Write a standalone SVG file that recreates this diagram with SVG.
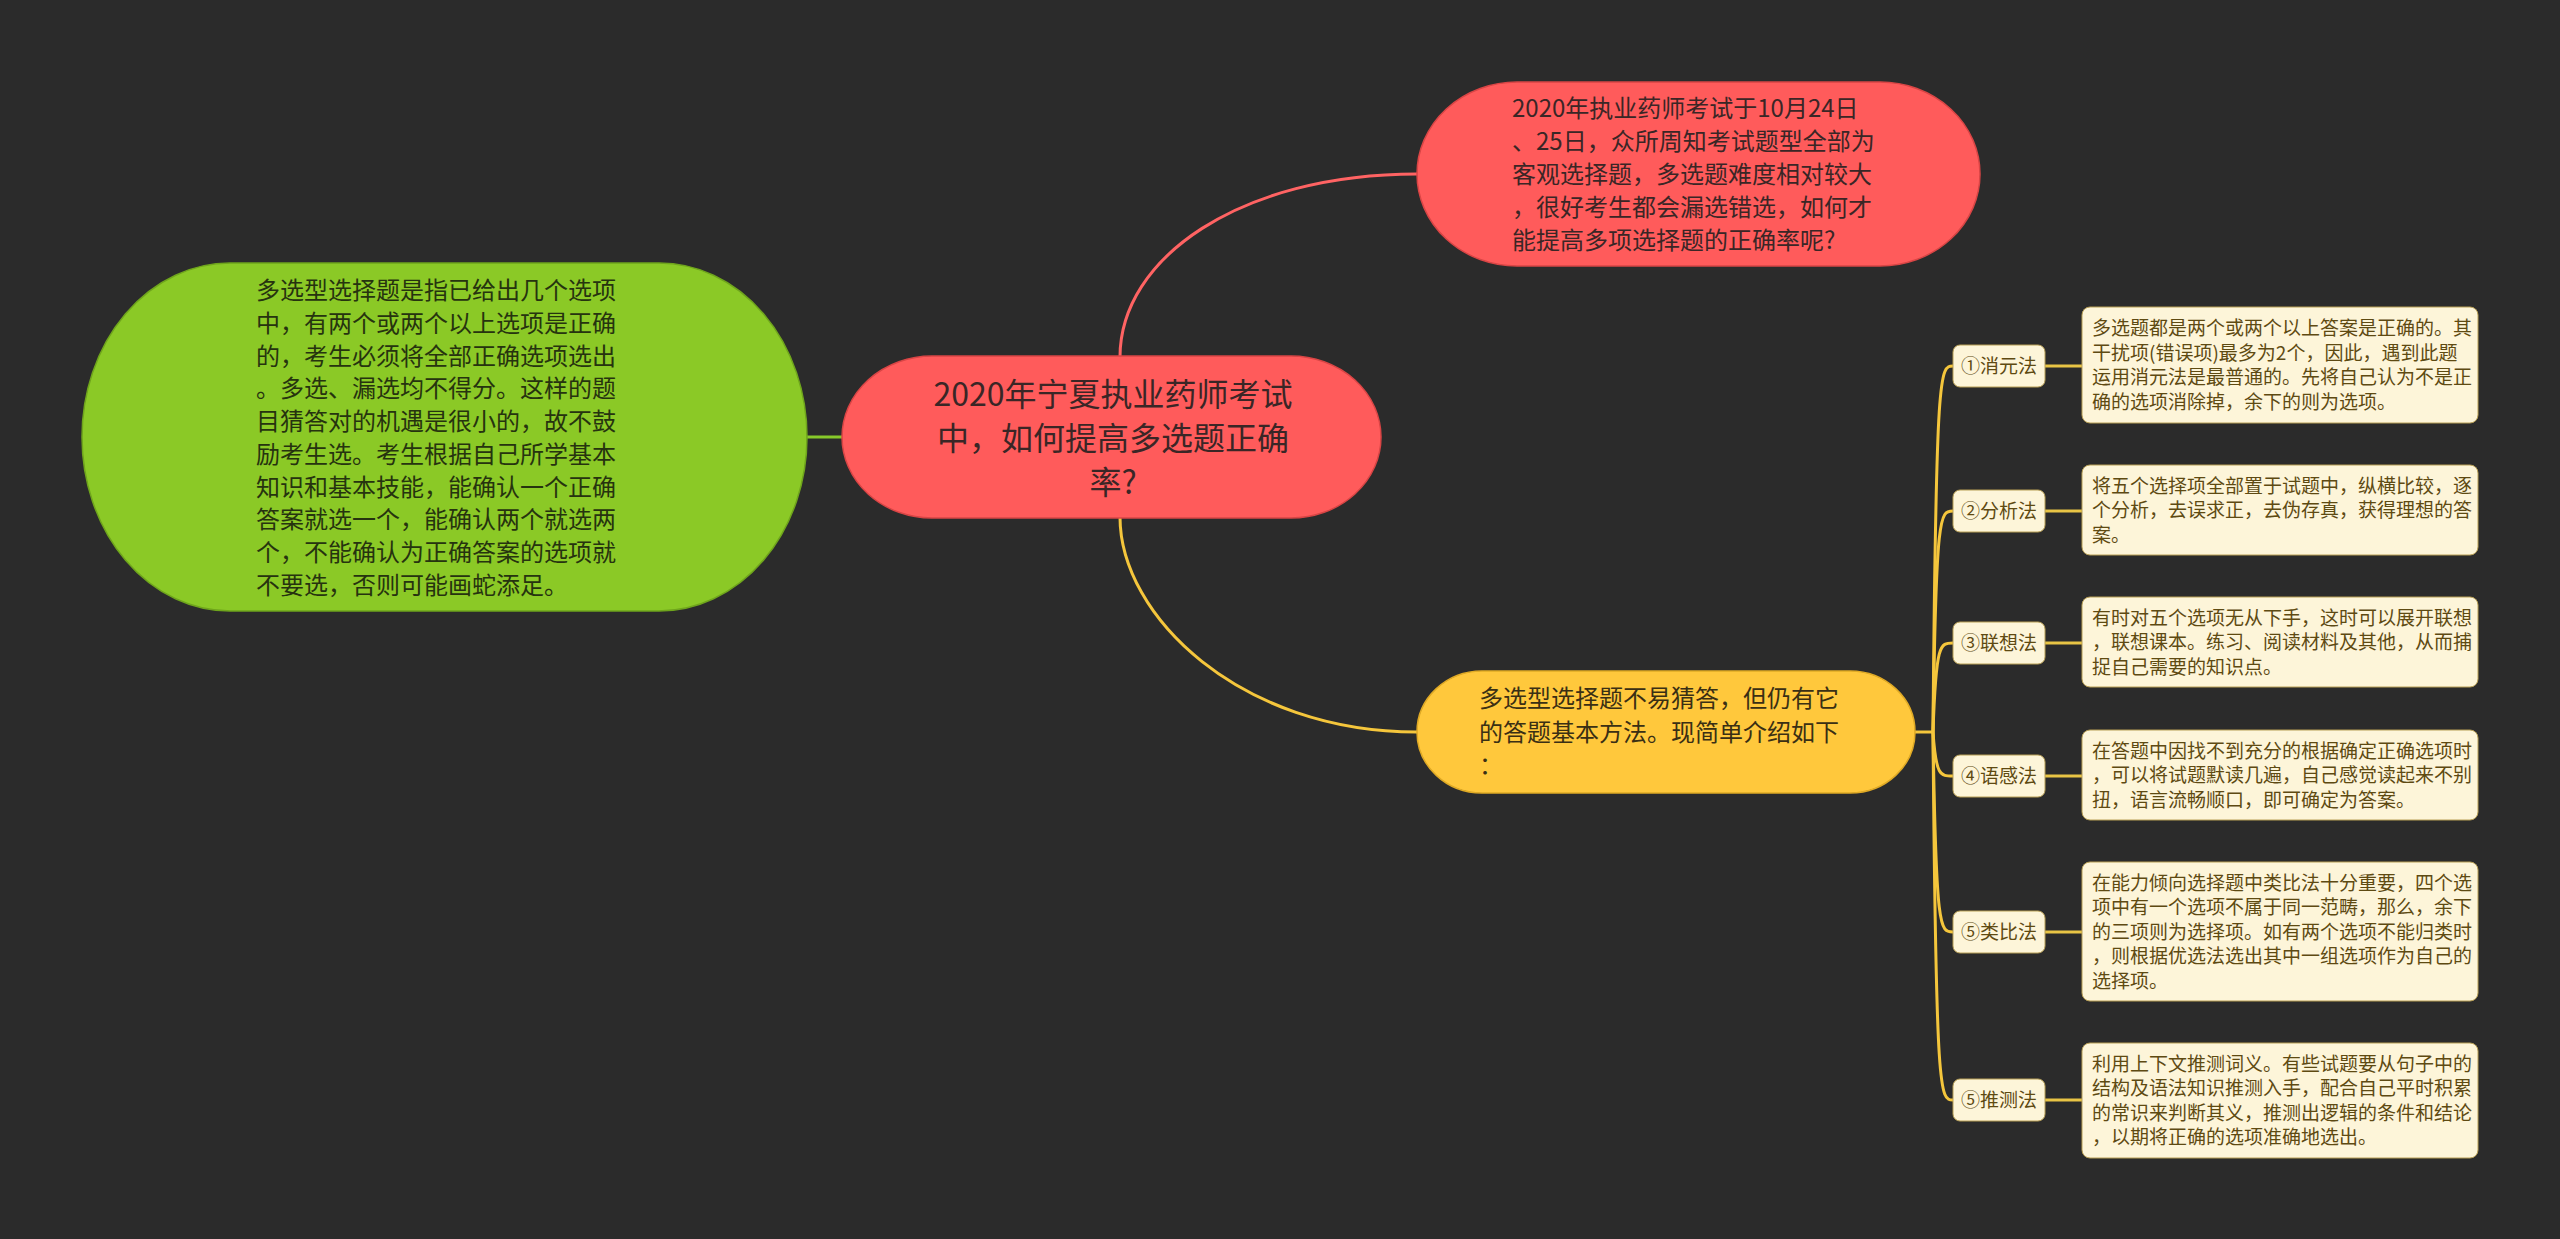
<svg xmlns="http://www.w3.org/2000/svg" width="2560" height="1239" viewBox="0 0 2560 1239">
<style>
text{font-family:"Noto Sans CJK SC","Liberation Sans",sans-serif;}
.c{font-size:32px;fill:#3a2626;text-anchor:middle;}
.m{font-size:24px;}
.r{fill:#3a2626;}
.g{fill:#26330f;}
.y{fill:#3a2f14;}
.lb{fill:#fdf5d9;stroke:#b89f55;stroke-width:1;}
.lt{font-size:19px;fill:#5e4a12;text-anchor:middle;}
.bt{font-size:19px;fill:#5e4a12;}
.ln{fill:none;stroke-width:3;}
</style>
<rect width="2560" height="1239" fill="#2b2b2b"/>
<g id="connectors">
<path class="ln" stroke="#ff6363" d="M1120 357 C1120 258 1240 174 1417 174"/>
<path class="ln" stroke="#f5c63c" d="M1120 517 C1120 616 1240 732 1417 732"/>
<path class="ln" stroke="#87c92a" d="M807 437 H842"/>
<path class="ln" stroke="#f5c63c" d="M1915 732 H1933"/>
<path class="ln" stroke="#f5c63c" d="M1933 732 C1936 366 1940 366 1953 366"/>
<path class="ln" stroke="#f5c63c" d="M1933 732 C1936 511 1940 511 1953 511"/>
<path class="ln" stroke="#f5c63c" d="M1933 732 C1936 643 1940 643 1953 643"/>
<path class="ln" stroke="#f5c63c" d="M1933 732 C1936 776 1940 776 1953 776"/>
<path class="ln" stroke="#f5c63c" d="M1933 732 C1936 932 1940 932 1953 932"/>
<path class="ln" stroke="#f5c63c" d="M1933 732 C1936 1100 1940 1100 1953 1100"/>
<path class="ln" stroke="#e8c445" d="M2045 366 H2082"/>
<path class="ln" stroke="#e8c445" d="M2045 511 H2082"/>
<path class="ln" stroke="#e8c445" d="M2045 643 H2082"/>
<path class="ln" stroke="#e8c445" d="M2045 776 H2082"/>
<path class="ln" stroke="#e8c445" d="M2045 932 H2082"/>
<path class="ln" stroke="#e8c445" d="M2045 1100 H2082"/>
</g>
<g id="root">
<rect x="842" y="356" width="539" height="162" rx="90" ry="81" fill="#ff5b5b" stroke="#d94545" stroke-width="1.5"/>
<text class="c" x="1113" y="406">2020年宁夏执业药师考试</text>
<text class="c" x="1113" y="450">中，如何提高多选题正确</text>
<text class="c" x="1113" y="494">率?</text>
</g>
<g id="intro">
<rect x="1417" y="82" width="563" height="184" rx="100" ry="92" fill="#ff5b5b" stroke="#d94545" stroke-width="1.5"/>
<text class="m r" x="1512" y="117">2020年执业药师考试于10月24日</text>
<text class="m r" x="1512" y="150">、25日，众所周知考试题型全部为</text>
<text class="m r" x="1512" y="183">客观选择题，多选题难度相对较大</text>
<text class="m r" x="1512" y="216">，很好考生都会漏选错选，如何才</text>
<text class="m r" x="1512" y="249">能提高多项选择题的正确率呢?</text>
</g>
<g id="definition">
<rect x="82" y="263" width="725" height="348" rx="148" ry="174" fill="#8bc926" stroke="#6fa51c" stroke-width="1.5"/>
<text class="m g" x="256" y="299">多选型选择题是指已给出几个选项</text>
<text class="m g" x="256" y="332">中，有两个或两个以上选项是正确</text>
<text class="m g" x="256" y="365">的，考生必须将全部正确选项选出</text>
<text class="m g" x="256" y="397">。多选、漏选均不得分。这样的题</text>
<text class="m g" x="256" y="430">目猜答对的机遇是很小的，故不鼓</text>
<text class="m g" x="256" y="463">励考生选。考生根据自己所学基本</text>
<text class="m g" x="256" y="496">知识和基本技能，能确认一个正确</text>
<text class="m g" x="256" y="528">答案就选一个，能确认两个就选两</text>
<text class="m g" x="256" y="561">个，不能确认为正确答案的选项就</text>
<text class="m g" x="256" y="594">不要选，否则可能画蛇添足。</text>
</g>
<g id="methods">
<rect x="1417" y="671" width="498" height="122" rx="65" ry="61" fill="#ffc83c" stroke="#e0aa25" stroke-width="1.5"/>
<text class="m y" x="1479" y="707">多选型选择题不易猜答，但仍有它</text>
<text class="m y" x="1479" y="741">的答题基本方法。现简单介绍如下</text>
<text class="m y" x="1479" y="774">：</text>
</g>
<g id="m1">
<rect class="lb" x="1953" y="345" width="92" height="42" rx="7"/>
<text class="lt" x="1999" y="373">①消元法</text>
</g>
<g id="d1">
<rect class="lb" x="2082" y="307" width="396" height="116" rx="8"/>
<text class="bt" x="2092" y="335">多选题都是两个或两个以上答案是正确的。其</text>
<text class="bt" x="2092" y="360">干扰项(错误项)最多为2个，因此，遇到此题</text>
<text class="bt" x="2092" y="384">运用消元法是最普通的。先将自己认为不是正</text>
<text class="bt" x="2092" y="409">确的选项消除掉，余下的则为选项。</text>
</g>
<g id="m2">
<rect class="lb" x="1953" y="490" width="92" height="42" rx="7"/>
<text class="lt" x="1999" y="518">②分析法</text>
</g>
<g id="d2">
<rect class="lb" x="2082" y="465" width="396" height="90" rx="8"/>
<text class="bt" x="2092" y="492.5">将五个选择项全部置于试题中，纵横比较，逐</text>
<text class="bt" x="2092" y="517">个分析，去误求正，去伪存真，获得理想的答</text>
<text class="bt" x="2092" y="541.5">案。</text>
</g>
<g id="m3">
<rect class="lb" x="1953" y="622" width="92" height="42" rx="7"/>
<text class="lt" x="1999" y="650">③联想法</text>
</g>
<g id="d3">
<rect class="lb" x="2082" y="597" width="396" height="90" rx="8"/>
<text class="bt" x="2092" y="624.5">有时对五个选项无从下手，这时可以展开联想</text>
<text class="bt" x="2092" y="649">，联想课本。练习、阅读材料及其他，从而捕</text>
<text class="bt" x="2092" y="673.5">捉自己需要的知识点。</text>
</g>
<g id="m4">
<rect class="lb" x="1953" y="755" width="92" height="42" rx="7"/>
<text class="lt" x="1999" y="783">④语感法</text>
</g>
<g id="d4">
<rect class="lb" x="2082" y="730" width="396" height="90" rx="8"/>
<text class="bt" x="2092" y="757.5">在答题中因找不到充分的根据确定正确选项时</text>
<text class="bt" x="2092" y="782">，可以将试题默读几遍，自己感觉读起来不别</text>
<text class="bt" x="2092" y="806.5">扭，语言流畅顺口，即可确定为答案。</text>
</g>
<g id="m5">
<rect class="lb" x="1953" y="911" width="92" height="42" rx="7"/>
<text class="lt" x="1999" y="939">⑤类比法</text>
</g>
<g id="d5">
<rect class="lb" x="2082" y="862" width="396" height="139" rx="8"/>
<text class="bt" x="2092" y="889.5">在能力倾向选择题中类比法十分重要，四个选</text>
<text class="bt" x="2092" y="914">项中有一个选项不属于同一范畴，那么，余下</text>
<text class="bt" x="2092" y="938.5">的三项则为选择项。如有两个选项不能归类时</text>
<text class="bt" x="2092" y="963">，则根据优选法选出其中一组选项作为自己的</text>
<text class="bt" x="2092" y="987.5">选择项。</text>
</g>
<g id="m6">
<rect class="lb" x="1953" y="1079" width="92" height="42" rx="7"/>
<text class="lt" x="1999" y="1107">⑤推测法</text>
</g>
<g id="d6">
<rect class="lb" x="2082" y="1043" width="396" height="115" rx="8"/>
<text class="bt" x="2092" y="1071">利用上下文推测词义。有些试题要从句子中的</text>
<text class="bt" x="2092" y="1095">结构及语法知识推测入手，配合自己平时积累</text>
<text class="bt" x="2092" y="1120">的常识来判断其义，推测出逻辑的条件和结论</text>
<text class="bt" x="2092" y="1144">，以期将正确的选项准确地选出。</text>
</g>
</svg>
